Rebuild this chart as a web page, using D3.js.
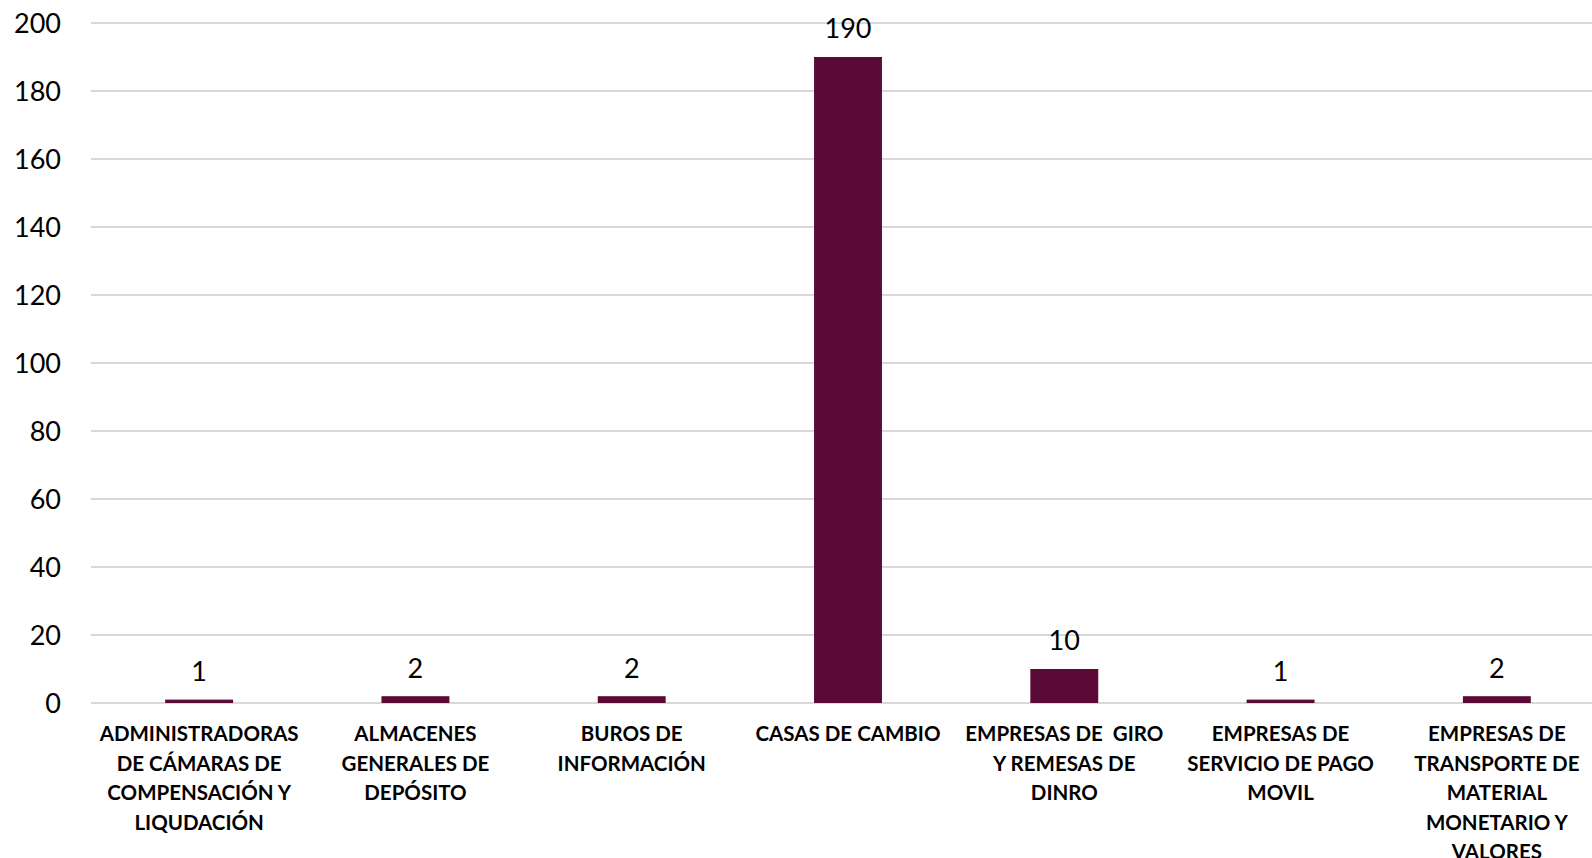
<!DOCTYPE html>
<html><head><meta charset="utf-8">
<script src="https://cdn.jsdelivr.net/npm/d3@7"></script>
<style>
html,body{margin:0;padding:0;background:#fff;}
svg{display:block;}
text{white-space:pre;}
</style></head>
<body>
<svg id="chart" width="1592" height="858"></svg>
<script>
const categories = [
  "ADMINISTRADORAS\nDE CÁMARAS DE\nCOMPENSACIÓN Y\nLIQUDACIÓN",
  "ALMACENES\nGENERALES DE\nDEPÓSITO",
  "BUROS DE\nINFORMACIÓN",
  "CASAS DE CAMBIO",
  "EMPRESAS DE  GIRO\nY REMESAS DE\nDINRO",
  "EMPRESAS DE\nSERVICIO DE PAGO\nMOVIL",
  "EMPRESAS DE\nTRANSPORTE DE\nMATERIAL\nMONETARIO Y\nVALORES"
];
const values = [1, 2, 2, 190, 10, 1, 2];
const yTicks = [0, 20, 40, 60, 80, 100, 120, 140, 160, 180, 200];

const svg = d3.select("#chart");
const mLeft = 91, mRight = 1605, mTop = 23, mBottom = 703;

const x = d3.scaleBand().domain(categories).range([mLeft, mRight]).paddingInner(0.686).paddingOuter(0.343);
const y = d3.scaleLinear().domain([0, 200]).range([mBottom, mTop]);

// gridlines
svg.append("g").selectAll("line").data(yTicks).join("line")
  .attr("x1", mLeft).attr("x2", 1592)
  .attr("y1", d => y(d)).attr("y2", d => y(d))
  .attr("stroke", "#d9d9d9").attr("stroke-width", 2);

// y axis labels
const yAxis = d3.axisLeft(y).tickValues(yTicks).tickSize(0).tickPadding(0);
const gy = svg.append("g").attr("transform", "translate(61,0)").call(yAxis);
gy.select(".domain").remove();
gy.selectAll("text").attr("font-family", "Lato, 'Open Sans', sans-serif")
  .attr("font-size", 27).attr("fill", "#000").attr("dy", "0.35em");

// bars
svg.append("g").selectAll("rect").data(values).join("rect")
  .attr("x", (d, i) => x(categories[i]))
  .attr("width", x.bandwidth())
  .attr("y", d => y(d))
  .attr("height", d => y(0) - y(d))
  .attr("fill", "#5b0a36");

// value labels
svg.append("g").selectAll("text").data(values).join("text")
  .attr("x", (d, i) => x(categories[i]) + x.bandwidth() / 2)
  .attr("y", d => y(d) - 28)
  .attr("dy", "0.35em")
  .attr("text-anchor", "middle")
  .attr("font-family", "Lato, 'Open Sans', sans-serif")
  .attr("font-size", 27).attr("fill", "#000")
  .text(d => d);

// category labels
const xAxis = d3.axisBottom(x).tickSize(0).tickFormat("");
const gx = svg.append("g").attr("transform", `translate(0,${mBottom})`).call(xAxis);
gx.select(".domain").remove();
gx.selectAll(".tick").each(function(d) {
  const t = d3.select(this).append("text")
    .attr("text-anchor", "middle")
    .attr("font-family", "Lato, 'Open Sans', sans-serif")
    .attr("font-weight", "bold")
    .attr("font-size", 20.5).attr("fill", "#000");
  d.split("\n").forEach((line, i) => {
    t.append("tspan").attr("x", 0).attr("y", 31 + i * 29.5).attr("dy", "0.35em").text(line);
  });
});
</script>
</body></html>
